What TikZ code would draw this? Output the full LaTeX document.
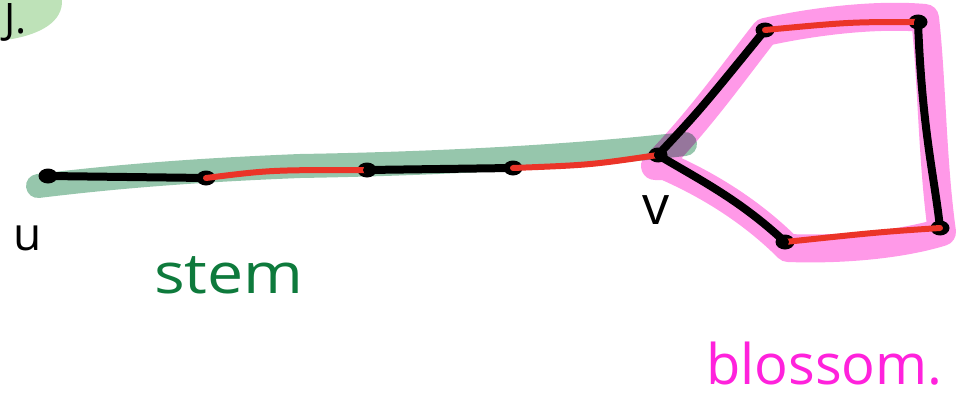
\documentclass[tikz,border=0pt]{standalone}
\usepackage{fontspec}
\setmainfont{Open Sans}
\definecolor{stemhl}{RGB}{150,198,172}
\definecolor{blossomhl}{RGB}{255,153,232}
\definecolor{leaf}{RGB}{190,226,184}
\definecolor{edgered}{RGB}{235,52,40}
\definecolor{stemtext}{RGB}{14,122,60}
\definecolor{blossomtext}{RGB}{255,34,220}
\usetikzlibrary{shapes.geometric}
\tikzset{
  vtx/.style={ellipse, fill=black, inner sep=0pt, minimum width=19pt, minimum height=15pt},
  matched/.style={edgered, line width=6pt, line cap=round},
  unmatched/.style={black, line width=8pt, line cap=round},
  hl/.style={line cap=round, line join=round},
  lbl/.style={inner sep=0pt}
}
\begin{document}
\begin{tikzpicture}[x=1pt,y=-1pt]
\useasboundingbox (0,0) rectangle (956,396);

% corner leaf with its letter
\fill[leaf] (0,0) -- (62,0) .. controls (63,22) and (40,34) .. (12,39) -- (0,40) -- cycle;
\node[lbl, anchor=base west, font=\fontsize{42}{42}\selectfont] (jl) at (4,34) {J.};

% blossom highlight
\draw[hl, blossomhl, line width=28pt]
  (655,166) .. controls (700,120) and (735,70) .. (765,32)
  .. controls (820,20) and (880,14) .. (925,18)
  .. controls (932,80) and (932,160) .. (942,232)
  .. controls (900,245) and (840,250) .. (788,248)
  .. controls (760,220) and (720,190) .. (665,166) -- cycle;

% stem highlight (multiplied over the blossom colour at v)
\draw[hl, stemhl, line width=24pt, blend mode=multiply]
  (38,186) .. controls (120,176) and (200,170) .. (300,166)
  .. controls (420,164) and (560,158) .. (685,144);

% vertices
\node[vtx] (u)  at (48,176) {};
\node[vtx] (a1) at (206,178) {};
\node[vtx] (a2) at (367,170) {};
\node[vtx] (a3) at (513,168) {};
\node[vtx] (v)  at (658,155) {};
\node[vtx] (b1) at (765,30) {};
\node[vtx] (b2) at (918,22) {};
\node[vtx] (b3) at (940,228) {};
\node[vtx] (b4) at (785,242) {};

% stem edges
\draw[unmatched] (u.center) -- (a1.center);
\draw[matched]   (a1.center) .. controls (270,170) .. (a2.center);
\draw[unmatched] (a2.center) -- (a3.center);
\draw[matched]   (a3.center) .. controls (590,165) .. (v.center);

% blossom edges
\draw[unmatched] (v.center) .. controls (700,110) .. (b1.center);
\draw[matched]   (b1.center) .. controls (850,22) .. (b2.center);
\draw[unmatched] (b2.center) .. controls (922,130) and (935,180) .. (b3.center);
\draw[matched]   (b3.center) .. controls (880,232) .. (b4.center);
\draw[unmatched] (b4.center) .. controls (740,200) and (700,180) .. (v.center);

% labels
\node[lbl, anchor=base, font=\fontsize{46}{46}\selectfont] (ul) at (28,250) {u};
\node[lbl, anchor=base, font=\fontsize{54}{54}\selectfont] (vl) at (656,224) {v};
\node[lbl, anchor=base west, text=stemtext, font=\fontsize{56}{56}\selectfont, xscale=1.15] (sl) at (154,293) {stem};
\node[lbl, anchor=base west, text=blossomtext, font=\fontsize{56}{56}\selectfont] (bl) at (706,384) {blossom.};
\end{tikzpicture}
\end{document}
